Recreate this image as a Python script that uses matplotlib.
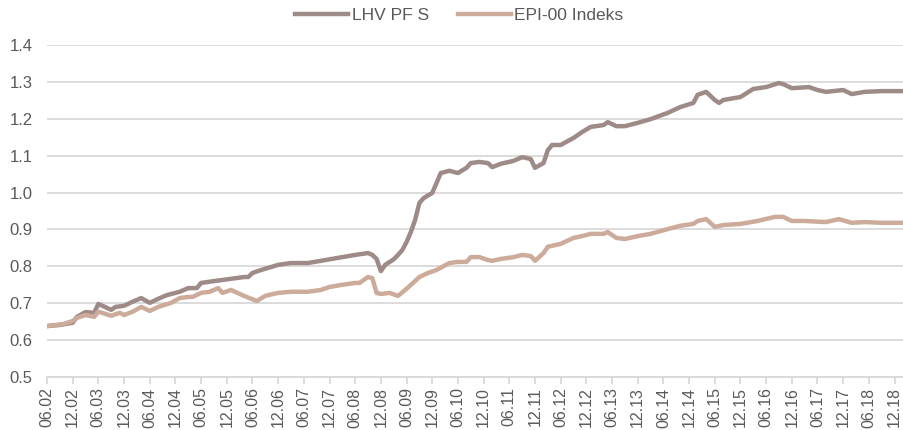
import numpy as np
import matplotlib
matplotlib.use("Agg")
import matplotlib.pyplot as plt

plt.rcParams['font.family'] = ['Liberation Sans', 'DejaVu Sans']

# months since June 2002 (0 = 06.02)
lhv_month = [0, 3, 6, 7, 9, 11, 12, 15, 16, 18, 20, 22, 24, 26, 28, 31, 33, 35, 36, 39,
             41, 46, 47, 48, 50, 54, 57, 61, 65, 69, 72, 75, 76, 77, 78, 79, 81, 82, 83, 84,
             85, 86, 87, 88, 90, 91, 92, 94, 96, 98, 99, 101, 103, 104, 106, 109, 111, 113, 114, 116,
             117, 118, 120, 123, 125, 127, 130, 131, 133, 135, 138, 141, 145, 148, 151, 152, 154, 156, 157, 158,
             162, 165, 168, 171, 172, 174, 178, 180, 182, 186, 188, 191, 195, 200]
lhv_value = [0.638, 0.641, 0.647, 0.663, 0.676, 0.674, 0.698, 0.682, 0.690, 0.693, 0.704, 0.714, 0.701, 0.712, 0.722, 0.731, 0.741, 0.741, 0.755, 0.760,
             0.763, 0.771, 0.771, 0.782, 0.790, 0.804, 0.809, 0.809, 0.817, 0.825, 0.831, 0.836, 0.831, 0.820, 0.787, 0.804, 0.819, 0.831, 0.844, 0.866,
             0.893, 0.926, 0.972, 0.985, 0.999, 1.026, 1.053, 1.059, 1.053, 1.067, 1.080, 1.083, 1.080, 1.069, 1.078, 1.086, 1.096, 1.091, 1.067, 1.080,
             1.115, 1.129, 1.129, 1.148, 1.164, 1.178, 1.183, 1.191, 1.180, 1.180, 1.189, 1.199, 1.216, 1.232, 1.243, 1.265, 1.273, 1.251, 1.243, 1.251,
             1.259, 1.281, 1.286, 1.297, 1.294, 1.283, 1.286, 1.278, 1.273, 1.278, 1.267, 1.273, 1.275, 1.275]

epi_month = [0, 4, 6, 7, 9, 11, 12, 15, 17, 18, 20, 22, 24, 26, 29, 31, 33, 34, 36, 38,
             40, 41, 43, 46, 49, 51, 54, 57, 61, 64, 66, 69, 72, 73, 75, 76, 77, 78, 80, 82,
             84, 87, 89, 91, 94, 96, 98, 99, 101, 103, 104, 106, 109, 111, 113, 114, 116, 117, 120, 123,
             125, 127, 130, 131, 133, 135, 138, 141, 145, 148, 151, 152, 154, 156, 158, 162, 166, 170, 172, 174,
             177, 180, 182, 185, 188, 191, 195, 200]
epi_value = [0.638, 0.644, 0.652, 0.660, 0.668, 0.663, 0.677, 0.666, 0.674, 0.668, 0.677, 0.690, 0.679, 0.690, 0.701, 0.714, 0.717, 0.717, 0.728, 0.731,
             0.741, 0.728, 0.736, 0.720, 0.706, 0.720, 0.728, 0.731, 0.731, 0.736, 0.744, 0.750, 0.755, 0.755, 0.771, 0.768, 0.728, 0.725, 0.728, 0.720,
             0.739, 0.771, 0.782, 0.790, 0.809, 0.812, 0.812, 0.825, 0.825, 0.817, 0.815, 0.820, 0.825, 0.831, 0.828, 0.815, 0.836, 0.853, 0.861, 0.877,
             0.882, 0.888, 0.888, 0.893, 0.877, 0.874, 0.882, 0.888, 0.901, 0.910, 0.915, 0.923, 0.928, 0.907, 0.912, 0.915, 0.923, 0.934, 0.934, 0.923,
             0.923, 0.921, 0.920, 0.928, 0.918, 0.920, 0.918, 0.918]

tick_labels = [f"{m}.{y:02d}" for y in range(2, 19) for m in ("06", "12")]
tick_pos = np.arange(len(tick_labels)) * 6

fig = plt.figure(figsize=(9.04, 4.30), dpi=100)
ax = fig.add_axes([0.052, 0.1233, 0.947, 0.772])

ax.plot(lhv_month, lhv_value, color='#9E8B87', lw=3.2, label='LHV PF S', solid_joinstyle='round')
ax.plot(epi_month, epi_value, color='#CCAB9B', lw=3.2, label='EPI-00 Indeks', solid_joinstyle='round')

ax.set_xlim(0, 200)
ax.set_ylim(0.5, 1.4)
ax.set_yticks(np.arange(0.5, 1.41, 0.1))
ax.set_yticklabels([f"{v:.1f}" for v in np.arange(0.5, 1.41, 0.1)])
ax.yaxis.grid(True, color='#D9D9D9', lw=1.3)
ax.set_axisbelow(True)
ax.tick_params(axis='y', length=0, pad=10.5, labelsize=12, labelcolor='#595959')

ax.set_xticks(tick_pos)
ax.set_xticklabels(tick_labels, rotation=90)
ax.tick_params(axis='x', length=5, color='#D9D9D9', width=1.3, labelsize=11.5, labelcolor='#595959', pad=2.5)

for s in ('top', 'right', 'left'):
    ax.spines[s].set_visible(False)
ax.spines['bottom'].set_color('#D9D9D9')
ax.spines['bottom'].set_linewidth(1.3)

fig.legend(loc='center', bbox_to_anchor=(0.508, 0.963), ncol=2, frameon=False,
           fontsize=12.5, handlelength=3.05, columnspacing=1.65, handletextpad=0.2,
           labelcolor='#595959')

fig.savefig('out.png', dpi=100)
